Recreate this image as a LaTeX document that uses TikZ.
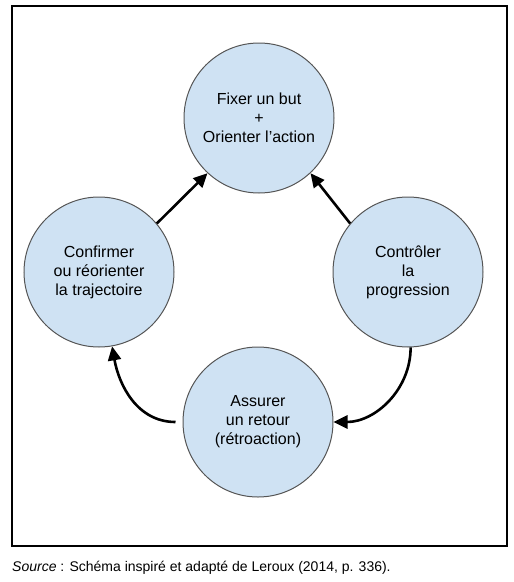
\documentclass[tikz,border=0pt]{standalone}
\usepackage{fontspec}
\setmainfont{Liberation Sans}
\usetikzlibrary{arrows.meta}
\definecolor{circfill}{HTML}{CFE2F3}
\definecolor{circline}{HTML}{555555}
\tikzset{
  stage/.style={circle, draw=circline, line width=1pt, fill=circfill, minimum size=150pt, inner sep=0pt, align=center, font=\fontsize{16}{19}\selectfont},
  flow/.style={line width=2.6pt, -{Triangle[length=14pt,width=13pt]}}
}
\begin{document}
\begin{tikzpicture}[x=1pt,y=-1pt]
\useasboundingbox (0,0) rectangle (514,582);
\draw[line width=2.5pt] (12,6) rectangle (507,546);
\node[stage] (T) at (259,118) {Fixer un but\\+\\Orienter l’action};
\node[stage] (L) at (99,272) {Confirmer\\ou réorienter\\la trajectoire};
\node[stage] (R) at (408,272) {Contrôler\\la\\progression};
\node[stage] (B) at (258,422) {Assurer\\un retour\\(rétroaction)};
\draw[flow] (L.40) -- (T.-133);
\draw[flow] (R.140) -- (T.-47);
\draw[flow] (R.-88) to[out=-90,in=0] (B.east);
\draw[flow] ([xshift=-7pt]B.west) to[out=180,in=-80] (L.-80);
\node[anchor=west, font=\fontsize{14}{17}\selectfont, inner sep=0pt] (cap) at (12,568) {\textit{Source} : Schéma inspiré et adapté de Leroux (2014, p. 336).};
\end{tikzpicture}
\end{document}
